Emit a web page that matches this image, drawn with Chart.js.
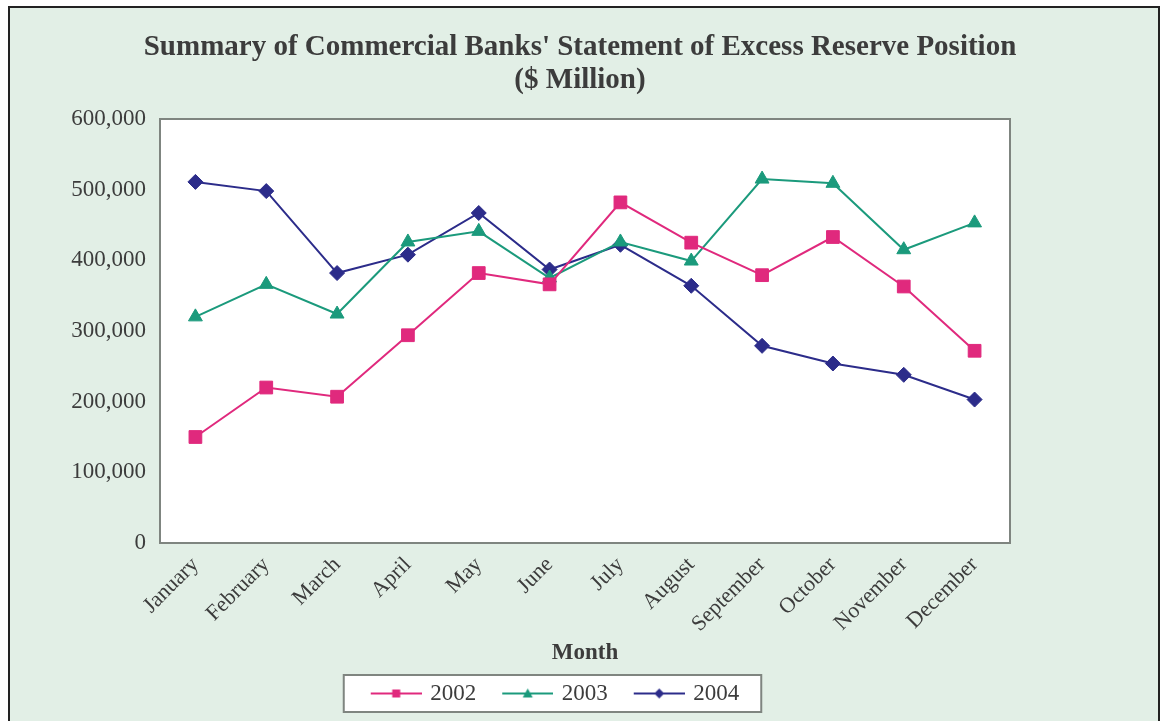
<!DOCTYPE html>
<html>
<head>
<meta charset="utf-8">
<script src="https://cdn.jsdelivr.net/npm/chart.js@4.4.1/dist/chart.umd.min.js"></script>
<style>
  html, body { margin: 0; padding: 0; background: #fff; }
  #frame { position: absolute; left: 8px; top: 6px; width: 1148px; height: 730px; background: #E2EFE6; border: 2px solid #222; border-bottom: none; }
  #c { position: absolute; left: 0; top: 0; }
</style>
</head>
<body>
<div id="frame"></div>
<canvas id="c" width="1160" height="721"></canvas>
<script>
const months = ['January', 'February', 'March', 'April', 'May', 'June', 'July',
  'August', 'September', 'October', 'November', 'December'];
const reserve2002 = [150000, 220000, 207000, 294000, 382000, 366000, 482000, 425000, 379000, 433000, 363000, 272000];
const reserve2003 = [320000, 366000, 324000, 426000, 441000, 375000, 426000, 399000, 515000, 509000, 415000, 453000];
const reserve2004 = [511000, 498000, 382000, 408000, 467000, 387000, 422000, 364000, 279000, 254000, 238000, 203000];
const seriesNames = ['2002', '2003', '2004'];

const textColor = '#3c3c3c';
const pink = '#E0297D';
const teal = '#1B9A7C';
const navy = '#2C2C8A';

Chart.defaults.font.family = "'Liberation Serif', 'Times New Roman', serif";

// small line+marker pictures for the legend
function legendIcon(color, style) {
  const c = document.createElement('canvas');
  c.width = 70; c.height = 16;
  const g = c.getContext('2d');
  g.strokeStyle = color; g.lineWidth = 2;
  g.beginPath(); g.moveTo(19, 8); g.lineTo(70, 8); g.stroke();
  g.fillStyle = color;
  const cx = 44.5, cy = 8;
  g.beginPath();
  if (style === 'rect') {
    g.rect(cx - 4, cy - 4, 8, 8);
  } else if (style === 'triangle') {
    g.moveTo(cx, cy - 5); g.lineTo(cx + 5, cy + 4); g.lineTo(cx - 5, cy + 4); g.closePath();
  } else {
    g.moveTo(cx, cy - 5); g.lineTo(cx + 5, cy); g.lineTo(cx, cy + 5); g.lineTo(cx - 5, cy); g.closePath();
  }
  g.fill();
  return c;
}
const icons = [legendIcon(pink, 'rect'), legendIcon(teal, 'triangle'), legendIcon(navy, 'rectRot')];

const backdrop = {
  id: 'backdrop',
  afterLayout(chart) {
    chart.legend.left -= 33;
    chart.legend.right -= 33;
  },
  beforeDraw(chart) {
    const { ctx, chartArea: a, legend } = chart;
    ctx.save();
    ctx.fillStyle = '#fff';
    ctx.fillRect(a.left, a.top, a.right - a.left, a.bottom - a.top);
    ctx.strokeStyle = '#7f8580';
    ctx.lineWidth = 2;
    ctx.strokeRect(a.left, a.top, a.right - a.left, a.bottom - a.top);
    const boxes = legend.legendHitBoxes;
    if (boxes && boxes.length) {
      const first = boxes[0], last = boxes[boxes.length - 1];
      const x0 = first.left - 11, x1 = last.left + last.width + 22;
      const yMid = first.top + first.height / 2;
      ctx.fillStyle = '#fff';
      ctx.fillRect(x0, yMid - 18.5, x1 - x0, 37);
      ctx.strokeRect(x0, yMid - 18.5, x1 - x0, 37);
    }
    ctx.restore();
  }
};

new Chart(document.getElementById('c'), {
  type: 'line',
  data: {
    labels: months,
    datasets: [
      { label: seriesNames[0], data: reserve2002, borderColor: pink, backgroundColor: pink,
        pointStyle: 'rect', pointRadius: 9, borderWidth: 2, pointBorderWidth: 1 },
      { label: seriesNames[1], data: reserve2003, borderColor: teal, backgroundColor: teal,
        pointStyle: 'triangle', pointRadius: 8, borderWidth: 2, pointBorderWidth: 1 },
      { label: seriesNames[2], data: reserve2004, borderColor: navy, backgroundColor: navy,
        pointStyle: 'rectRot', pointRadius: 7.5, borderWidth: 2, pointBorderWidth: 1 }
    ]
  },
  options: {
    responsive: false,
    animation: false,
    layout: { padding: { left: 0, right: 0, top: 0, bottom: 6 } },
    plugins: {
      title: {
        display: true,
        text: ["Summary of Commercial Banks' Statement of Excess Reserve Position", '($ Million)'],
        color: textColor,
        font: { size: 29, weight: 'bold', lineHeight: 33 / 29 },
        padding: { top: 31.5, bottom: 21.5 }
      },
      legend: {
        position: 'bottom',
        labels: {
          usePointStyle: true,
          pointStyleWidth: 64,
          boxHeight: 23,
          padding: 10,
          color: textColor,
          font: { size: 23 },
          generateLabels(chart) {
            return Chart.defaults.plugins.legend.labels.generateLabels(chart)
              .map((item, i) => Object.assign(item, { pointStyle: icons[i] }));
          }
        }
      },
      tooltip: { enabled: false }
    },
    scales: {
      x: {
        offset: true,
        grid: { display: false, drawTicks: false },
        border: { display: false },
        ticks: { color: textColor, font: { size: 22 }, maxRotation: 45, minRotation: 45, padding: 9, autoSkip: false },
        title: { display: true, text: 'Month', color: textColor, font: { size: 23, weight: 'bold' }, padding: { top: 0, bottom: 5 } },
        afterFit(s) { s.height = 129; }
      },
      y: {
        min: 0,
        max: 600000,
        grid: { display: false, drawTicks: false },
        border: { display: false },
        ticks: { stepSize: 100000, padding: 14, color: textColor, font: { size: 23 },
          callback: v => v.toLocaleString('en-US') },
        afterFit(s) { s.width = 160; }
      },
      yRight: {
        position: 'right',
        grid: { display: false, drawTicks: false },
        border: { display: false },
        ticks: { display: false },
        afterFit(s) { s.width = 150; }
      }
    }
  },
  plugins: [backdrop]
});
</script>
</body>
</html>
